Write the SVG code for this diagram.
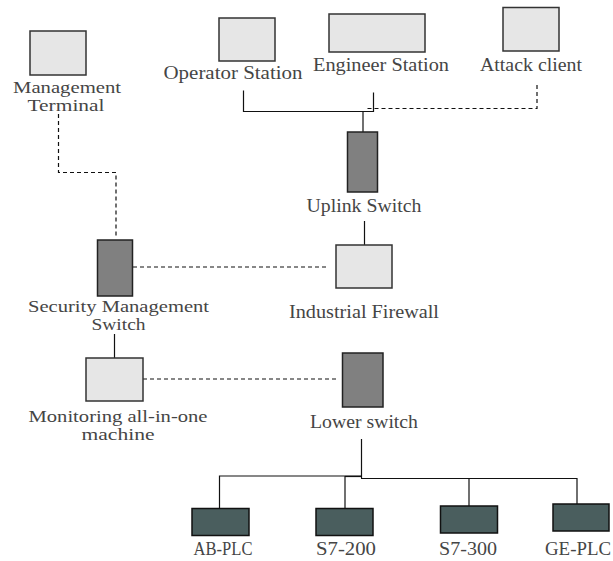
<svg xmlns="http://www.w3.org/2000/svg" width="613" height="561" viewBox="0 0 613 561">
<style>
.lt{fill:#e6e6e6;stroke:#333;stroke-width:1.5}
.sw{fill:#808080;stroke:#222;stroke-width:1.5}
.plc{fill:#4a5e5e;stroke:#111;stroke-width:1.5}
text{font-family:"Liberation Serif","Times New Roman",serif;font-size:18.5px;fill:#454545;text-anchor:middle}
text.two{font-size:16px}
.ln{fill:none;stroke:#111;stroke-width:1.2}
.ds{fill:none;stroke:#111;stroke-width:1.2;stroke-dasharray:4 3}
</style>
<rect width="613" height="561" fill="#fff"/>
<g id="connectors">
<path class="ds" d="M58.5,114 V172.5 H116 V236"/>
<path class="ds" d="M133,267 H328"/>
<path class="ds" d="M143,379 H338"/>
<path class="ln" d="M243.5,90.5 V111.5 H373.5 V92.5"/>
<path class="ln" d="M363,111.5 V132"/>
<path class="ds" d="M537,85 V108.5 H365"/>
<path class="ln" d="M364.5,221 V245"/>
<path class="ln" d="M114.5,334 V358"/>
<path class="ln" d="M361.5,439 V478" stroke-width="2.2"/>
<path class="ln" d="M361,476 H219.5 V508"/>
<path class="ln" d="M361,476.5 H345" stroke-width="2"/>
<path class="ln" d="M361,478.5 H577 V520"/>
<path class="ln" d="M345,476 V508"/>
<path class="ln" d="M469,478.5 V506"/>
</g>
<g id="management-terminal">
<rect class="lt" x="30" y="31" width="56" height="44"/>
<text class="two" x="67" y="92.5" textLength="108" lengthAdjust="spacingAndGlyphs">Management</text>
<text class="two" x="66" y="110.5" textLength="77" lengthAdjust="spacingAndGlyphs">Terminal</text>
</g>
<g id="operator-station">
<rect class="lt" x="219" y="18" width="56" height="43"/>
<text x="233" y="79" textLength="139" lengthAdjust="spacingAndGlyphs">Operator Station</text>
</g>
<g id="engineer-station">
<rect class="lt" x="329" y="14" width="96" height="38"/>
<text x="381" y="70.5" textLength="136" lengthAdjust="spacingAndGlyphs">Engineer Station</text>
</g>
<g id="attack-client">
<rect class="lt" x="503" y="7.5" width="56" height="43.5"/>
<text x="531" y="70.5" textLength="102" lengthAdjust="spacingAndGlyphs">Attack client</text>
</g>
<g id="uplink-switch">
<rect class="sw" x="347.5" y="132" width="30" height="60"/>
<text x="364" y="211.5" textLength="115" lengthAdjust="spacingAndGlyphs">Uplink Switch</text>
</g>
<g id="industrial-firewall">
<rect class="lt" x="336" y="245" width="56" height="43"/>
<text x="364" y="318" textLength="150" lengthAdjust="spacingAndGlyphs">Industrial Firewall</text>
</g>
<g id="security-management-switch">
<rect class="sw" x="97.5" y="240" width="35" height="56"/>
<text class="two" x="118.5" y="312" textLength="181" lengthAdjust="spacingAndGlyphs">Security Management</text>
<text class="two" x="118.5" y="330" textLength="54" lengthAdjust="spacingAndGlyphs">Switch</text>
</g>
<g id="monitoring-machine">
<rect class="lt" x="86" y="358" width="57" height="43"/>
<text class="two" x="118" y="421.5" textLength="179" lengthAdjust="spacingAndGlyphs">Monitoring all-in-one</text>
<text class="two" x="118" y="439.5" textLength="73" lengthAdjust="spacingAndGlyphs">machine</text>
</g>
<g id="lower-switch">
<rect class="sw" x="342.5" y="353" width="40.5" height="54"/>
<text x="364" y="428" textLength="108" lengthAdjust="spacingAndGlyphs">Lower switch</text>
</g>
<g id="ab-plc">
<rect class="plc" x="192" y="508.5" width="57" height="27"/>
<text x="223" y="555" textLength="59" lengthAdjust="spacingAndGlyphs">AB-PLC</text>
</g>
<g id="s7-200">
<rect class="plc" x="316" y="508.5" width="57" height="27"/>
<text x="346" y="555" textLength="60" lengthAdjust="spacingAndGlyphs">S7-200</text>
</g>
<g id="s7-300">
<rect class="plc" x="440.5" y="506" width="57" height="27"/>
<text x="468" y="555" textLength="58" lengthAdjust="spacingAndGlyphs">S7-300</text>
</g>
<g id="ge-plc">
<rect class="plc" x="553" y="504" width="56" height="27"/>
<text x="578" y="555" textLength="66" lengthAdjust="spacingAndGlyphs">GE-PLC</text>
</g>
</svg>
